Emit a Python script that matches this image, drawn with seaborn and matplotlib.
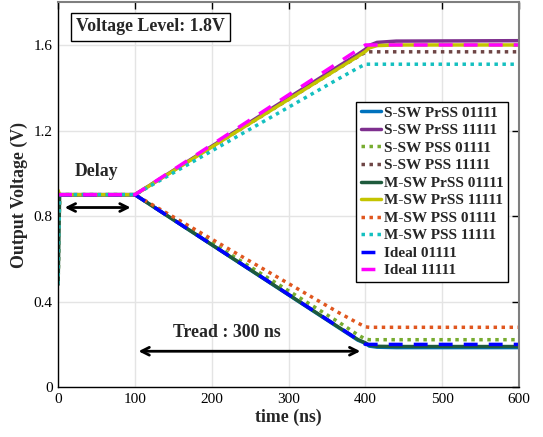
import pandas as pd
import matplotlib
matplotlib.use('Agg')
import matplotlib.pyplot as plt
import seaborn as sns

# sample times (ns) shared by every trace
time_ns = [0, 2, 100, 367, 390, 400, 405, 415, 440, 600]

s_sw_prss_01111 = [0.90, 0.90, 0.90, 0.274, 0.220, 0.205, 0.192, 0.187, 0.185, 0.185]
s_sw_prss_11111 = [0.90, 0.90, 0.90, 1.505, 1.556, 1.580, 1.598, 1.612, 1.618, 1.620]
s_sw_pss_01111 = [0.48, 0.90, 0.90, 0.300, 0.245, 0.225, 0.222, 0.222, 0.222, 0.222]
s_sw_pss_11111 = [0.90, 0.90, 0.90, 1.495, 1.545, 1.566, 1.568, 1.568, 1.568, 1.568]
m_sw_prss_01111 = [0.48, 0.90, 0.90, 0.276, 0.223, 0.207, 0.196, 0.191, 0.190, 0.190]
m_sw_prss_11111 = [0.92, 0.90, 0.90, 1.495, 1.546, 1.570, 1.586, 1.597, 1.600, 1.600]
m_sw_pss_01111 = [0.48, 0.90, 0.90, 0.345, 0.300, 0.282, 0.280, 0.280, 0.280, 0.280]
m_sw_pss_11111 = [0.48, 0.90, 0.90, 1.446, 1.492, 1.510, 1.510, 1.510, 1.510, 1.510]
ideal_01111 = [0.90, 0.90, 0.90, 0.277, 0.223, 0.200, 0.200, 0.200, 0.200, 0.200]
ideal_11111 = [0.90, 0.90, 0.90, 1.523, 1.577, 1.600, 1.600, 1.600, 1.600, 1.600]

labels = ['S-SW PrSS 01111', 'S-SW PrSS 11111', 'S-SW PSS 01111', 'S-SW PSS 11111',
          'M-SW PrSS 01111', 'M-SW PrSS 11111', 'M-SW PSS 01111', 'M-SW PSS 11111',
          'Ideal 01111', 'Ideal 11111']
values = [s_sw_prss_01111, s_sw_prss_11111, s_sw_pss_01111, s_sw_pss_11111,
          m_sw_prss_01111, m_sw_prss_11111, m_sw_pss_01111, m_sw_pss_11111,
          ideal_01111, ideal_11111]
colors = ['#0072BD', '#7E2F8E', '#77AC30', '#6E4545',
          '#1E5A3C', '#C4C400', '#E0571F', '#14C0C0',
          '#0000FF', '#FF00FF']
styles = ['-', '-', ':', ':', '-', '-', ':', ':', '--', '--']

x_ticks = [0, 100, 200, 300, 400, 500, 600]
y_ticks = [0, 0.4, 0.8, 1.2, 1.6]

sns.set_style('whitegrid')
plt.rcParams['font.family'] = ['Liberation Serif', 'DejaVu Serif']

fig, ax = plt.subplots(figsize=(5.43, 4.37), dpi=100)
fig.subplots_adjust(left=0.107, right=0.956, bottom=0.114, top=0.995)

rows = []
for lab, vals in zip(labels, values):
    for t, v in zip(time_ns, vals):
        rows.append({'time': t, 'volt': v, 'trace': lab})
df = pd.DataFrame(rows)

for lab, col, ls in zip(labels, colors, styles):
    sub = df[df['trace'] == lab]
    sns.lineplot(data=sub, x='time', y='volt', ax=ax, color=col,
                 linewidth=2.5, label=lab, sort=False)
    l = ax.lines[-1]
    if ls == ':':
        l.set_dashes((1, 1.3))
    elif ls == '--':
        l.set_dashes((4, 3.2))

ax.set_xlim(0, 600)
ax.set_ylim(0, 1.8)
ax.set_xticks(x_ticks)
ax.set_yticks(y_ticks)
ax.set_yticklabels(['0', '0.4', '0.8', '1.2', '1.6'])
ax.tick_params(direction='in', top=True, right=True, length=5, width=1,
               labelsize=11, colors='black', pad=4)
ax.grid(True, color='#e4e4e4', linewidth=1)
for side in ['left', 'bottom']:
    ax.spines[side].set_color('black')
    ax.spines[side].set_linewidth(1)
for side in ['top', 'right']:
    ax.spines[side].set_color('#7f7f7f')
    ax.spines[side].set_linewidth(1.5)

ax.set_xlabel('time (ns)', fontsize=12.8, fontweight='bold', labelpad=2)
ax.set_ylabel('Output Voltage (V)', fontsize=12.8, fontweight='bold', labelpad=4)

leg = ax.legend(loc='upper right', bbox_to_anchor=(0.976, 0.742),
                prop={'family': 'Liberation Serif', 'weight': 'bold', 'size': 11},
                frameon=True, fancybox=False, edgecolor='black', framealpha=1,
                handlelength=1.3, handletextpad=0.2, labelspacing=0.25,
                borderpad=0.3, borderaxespad=0)
leg.get_frame().set_linewidth(1)

ax.text(0.039, 0.958, 'Voltage Level: 1.8V', transform=ax.transAxes,
        fontsize=12.8, fontweight='bold', va='top', ha='left',
        bbox=dict(boxstyle='square,pad=0.3', facecolor='white', edgecolor='black', linewidth=1))

ax.text(21, 1.01, 'Delay', fontsize=12.8, fontweight='bold', ha='left', va='center')
ax.annotate('', xy=(98, 0.84), xytext=(5, 0.84),
            arrowprops=dict(arrowstyle='<->', color='black', lw=2, mutation_scale=14))

ax.text(149, 0.255, 'Tread : 300 ns', fontsize=12.8, fontweight='bold', ha='left', va='center')
ax.annotate('', xy=(397, 0.168), xytext=(101, 0.168),
            arrowprops=dict(arrowstyle='<->', color='black', lw=2, mutation_scale=14))

fig.savefig('out.png', dpi=100)
